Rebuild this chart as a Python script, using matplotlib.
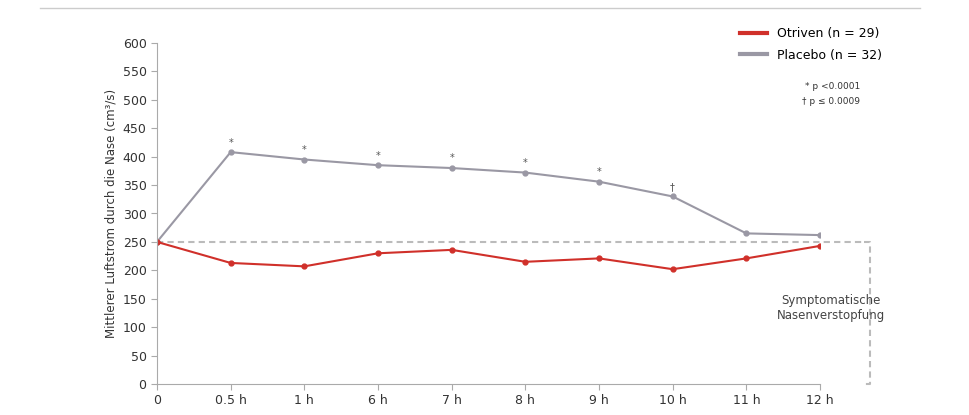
import matplotlib
matplotlib.use("Agg")
import matplotlib.pyplot as plt

categories = ["0", "0.5 h", "1 h", "6 h", "7 h", "8 h", "9 h", "10 h", "11 h", "12 h"]
gray_vals = [250, 408, 395, 385, 380, 372, 356, 330, 265, 262]
red_vals = [250, 213, 207, 230, 236, 215, 221, 202, 221, 243]
marks = ["", "*", "*", "*", "*", "*", "*", "†", "", ""]
yticks = list(range(0, 601, 50))

RED = "#d0302a"
GRAY = "#9a98a4"
W, H = 970, 415
fig = plt.figure(figsize=(W/100, H/100), dpi=100)
ax = fig.add_axes([157/W, 1-384/H, (820-157)/W, (384-43)/H])
x = list(range(len(categories)))
ax.plot(x, gray_vals, color=GRAY, lw=1.5, marker="o", ms=3.5, label="Placebo (n = 32)")
ax.plot(x, red_vals, color=RED, lw=1.5, marker="o", ms=3.5, label="Otriven (n = 29)")
for xi, v, m in zip(x, gray_vals, marks):
    if m:
        ax.text(xi, v + 8, m, ha="center", va="bottom", fontsize=7, color="#555")
ax.set_xlim(0, len(categories) - 1)
ax.set_ylim(0, 600)
ax.set_xticks(x)
ax.set_xticklabels(categories)
ax.set_yticks(yticks)
ax.tick_params(labelsize=9, colors="#333", length=4, color="#aaa")
for s in ["top", "right"]:
    ax.spines[s].set_visible(False)
for s in ["left", "bottom"]:
    ax.spines[s].set_color("#aaa")
ax.set_ylabel("Mittlerer Luftstrom durch die Nase (cm³/s)", fontsize=8.5, color="#333")
ax.plot([0, 9.6], [250, 250], ls=(0, (3, 2)), color="#bbb", lw=1.5, clip_on=False, zorder=0)
ax.plot([9.6, 9.68, 9.68, 9.6], [250, 250, 0, 0], ls=(0, (3, 2)), color="#bbb", lw=1.5, clip_on=False)
ax.text(9.15, 133, "Symptomatische\nNasenverstopfung", ha="center", va="center", fontsize=8.5, color="#444")
h, l = ax.get_legend_handles_labels()
fig.legend(h[::-1], l[::-1], loc="upper left", bbox_to_anchor=(735/W, 1-22/H), frameon=False,
           fontsize=9, handlelength=2.2, labelspacing=0.7, borderaxespad=0)
for lh in fig.legends[0].get_lines():
    lh.set_linewidth(3); lh.set_marker("")
fig.text(860/W, 1-89/H, "* p <0.0001", ha="right", fontsize=6.5, color="#333")
fig.text(860/W, 1-104/H, "† p ≤ 0.0009", ha="right", fontsize=6.5, color="#333")
fig.add_artist(plt.Line2D([40/W, 920/W], [1-8/H, 1-8/H], color="#ccc", lw=1))
fig.savefig("out.png", dpi=100)
